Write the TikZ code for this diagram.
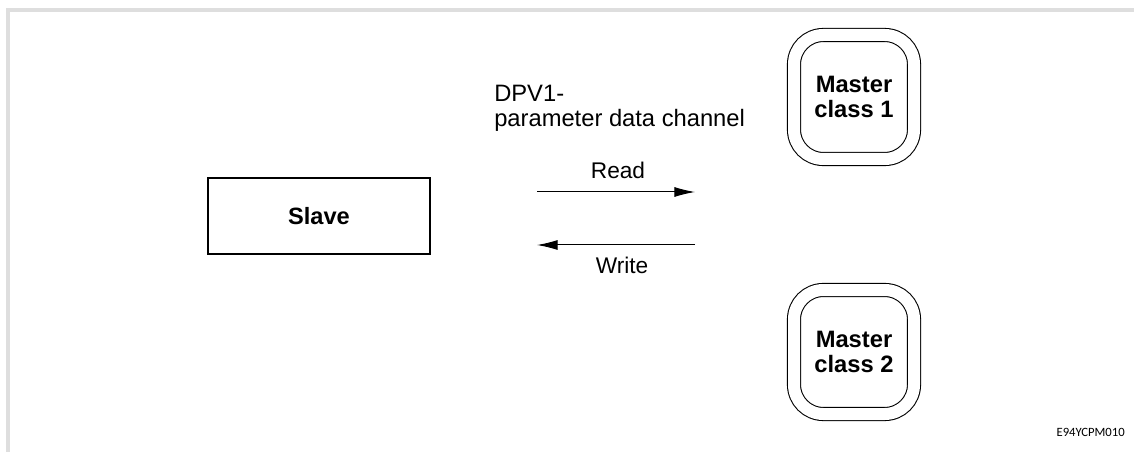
\documentclass[tikz,border=0pt]{standalone}
\usepackage{fontspec}
\setmainfont{Liberation Sans}
\newfontfamily\codefont{Carlito}
\usetikzlibrary{arrows.meta}

\begin{document}
\begin{tikzpicture}[
  x=0.75pt, y=-0.75pt,
  >={Latex[length=15.5pt,width=7.5pt]},
  slavebox/.style={rectangle, draw, line width=1pt, minimum width=166.5pt, minimum height=57pt, inner sep=0pt, font=\fontsize{17.7}{20}\selectfont\bfseries},
  masterbox/.style={rectangle, rounded corners=22pt, draw, double, line width=0.8pt, double distance=9pt, minimum width=90pt, minimum height=93pt, inner sep=0pt, align=center, font=\fontsize{17.8}{18.5}\selectfont\bfseries},
  lbl/.style={inner sep=0pt, font=\fontsize{17}{19}\selectfont},
  arr/.style={->, line width=0.75pt}
]
  \useasboundingbox (0,0) rectangle (1134,452);
  \draw[black!13, line width=3pt] (8,452) -- (8,10) -- (1134,10);

  \node[slavebox] (slave) at (319,216) {Slave};
  \node[masterbox] (mc1) at (854,97) {Master\\class 1};
  \node[masterbox] (mc2) at (854,352) {Master\\class 2};

  \node[lbl, anchor=north west, align=left, font=\fontsize{17.8}{19}\selectfont] (dpv) at (494,85) {DPV1-\\parameter data channel};

  \coordinate (rd-a) at (537,192);
  \coordinate (rd-b) at (695,192);
  \coordinate (wr-a) at (695,245);
  \coordinate (wr-b) at (537,245);
  \draw[arr] (rd-a) -- (rd-b);
  \draw[arr] (wr-a) -- (wr-b);
  \node[lbl] (read) at (618,170) {Read};
  \node[lbl] (write) at (622,265) {Write};

  \node[inner sep=0pt, anchor=east, font=\codefont\fontsize{9.5}{11}\selectfont] (code) at (1125,432) {E94YCPM010};
\end{tikzpicture}
\end{document}
